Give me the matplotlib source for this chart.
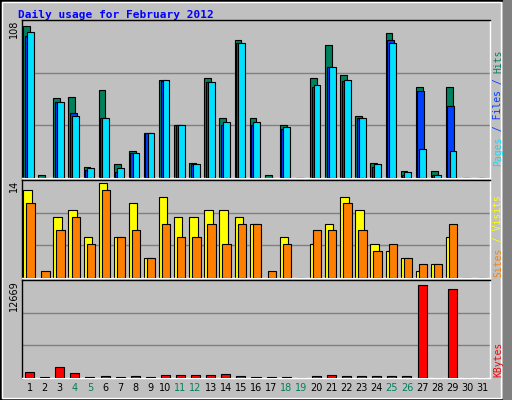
import matplotlib
matplotlib.use("Agg")
import matplotlib.pyplot as plt
import numpy as np

days = list(range(1, 32))
hits  = [108,2,57,58,8,63,10,19,32,70,38,11,71,43,98,43,2,38,0,71,95,73,44,11,103,5,65,5,65,0,0]
files = [101,0,54,46,6,43,4,18,32,69,38,10,68,38,96,38,0,35,0,65,79,69,43,8,98,2,62,2,51,0,0]
pages = [104,0,54,44,7,43,7,18,32,70,38,10,68,40,96,40,0,36,0,66,79,70,43,10,96,4,21,2,19,0,0]
visits = [13,0,9,10,6,14,6,11,3,12,9,9,10,10,9,8,0,6,0,5,8,12,10,5,4,3,1,2,6,0,0]
sites  = [11,1,7,9,5,13,6,7,3,8,6,6,8,5,8,8,1,5,0,7,7,11,7,4,5,3,2,2,8,0,0]
kbytes = [800,120,1500,700,200,250,200,300,200,450,450,400,350,600,300,200,150,150,0,300,350,300,300,250,250,300,12669,0,12100,0,0]
weekend = [4,5,11,12,18,19,25,26]

W, H = 512, 400
fig = plt.figure(figsize=(W/100, H/100), dpi=100, facecolor="#c0c0c0")
fig.patches.append(plt.Rectangle((0,0),1,1,transform=fig.transFigure,fill=False,ec="black",lw=2))
fig.patches.append(plt.Rectangle((0.004,0.005),0.975,0.99,transform=fig.transFigure,fill=False,ec="white",lw=1))
fig.patches.append(plt.Rectangle((503/W,0),9/W,1,transform=fig.transFigure,color="#808080"))

fig.text(18/W, 1-15/H, "Daily usage for February 2012", color="#0000ff", fontweight="bold",
         family="DejaVu Sans Mono", fontsize=8, va="center")

def ax_px(x0, y0, x1, y1):
    return fig.add_axes([x0/W, 1-y1/H, (x1-x0)/W, (y1-y0)/H])

x = np.array(days)
L, R = 22, 490
ekw = dict(edgecolor="black", linewidth=0.8, align="edge")
mono = dict(rotation=90, family="DejaVu Sans Mono", fontsize=7, ha="center", va="bottom")

def setup(ax, top, label):
    ax.set_facecolor("#c0c0c0")
    ax.set_xlim(0.5, 31.5)
    ax.set_ylim(0, top)
    ax.set_xticks([]); ax.set_yticks([])
    for f in (1/3, 2/3):
        ax.axhline(top*f, color="#808080", lw=1, zorder=0)
    for s in ax.spines.values():
        s.set_linewidth(1)
    ax.spines["right"].set_color("white"); ax.spines["bottom"].set_color("white")
    ax.text(-0.018, 1.0, label, transform=ax.transAxes, rotation=90, ha="center", va="top", fontsize=7)

def rlabel(y, s, c):
    fig.text(498/W, 1-y/H, s, color=c, **mono)

ax1 = ax_px(L, 20, R, 178)
setup(ax1, 108/0.96, "108")
ax1.bar(x-0.42, hits, 0.45, color="#00805c", **ekw, zorder=2)
ax1.bar(x-0.32, files, 0.45, color="#0040ff", **ekw, zorder=3)
ax1.bar(x-0.18, pages, 0.45, color="#00e0ff", **ekw, zorder=4)
rlabel(166, "Pages", "#00e0ff")
rlabel(137, " / Files / ", "#0040ff")
rlabel(73, "Hits", "#00805c")

ax2 = ax_px(L, 180, R, 278)
setup(ax2, 14/0.97, "14")
ax2.bar(x-0.42, visits, 0.55, color="#ffff00", **ekw, zorder=2)
ax2.bar(x-0.22, sites, 0.55, color="#ff8000", **ekw, zorder=3)
rlabel(277, "Sites", "#ff8000")
rlabel(248, " / Visits", "#ffff00")

ax3 = ax_px(L, 280, R, 378)
setup(ax3, 12669/0.95, "12669")
ax3.bar(x-0.3, kbytes, 0.6, color="#ff0000", **ekw, zorder=3)
rlabel(377, "KBytes", "#ff0000")

for d in days:
    xp = L + (d-0.5)/31*(R-L)
    fig.text(xp/W, 1-388/H, str(d), ha="center", va="center", fontsize=7,
             color="#00805c" if d in weekend else "black")

fig.savefig("out.png", dpi=100, facecolor=fig.get_facecolor())
